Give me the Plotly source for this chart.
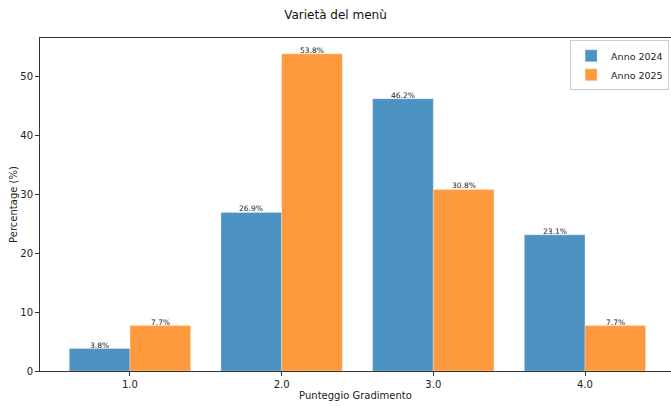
import plotly.graph_objects as go

categories = [1, 2, 3, 4]
tick_labels = ["1.0", "2.0", "3.0", "4.0"]
values_2024 = [3.8, 26.9, 46.2, 23.1]
values_2025 = [7.7, 53.8, 30.8, 7.7]
series_names = ["Anno 2024", "Anno 2025"]

blue = "#4c92c3"
orange = "#ff993e"
font_family = "DejaVu Sans"

fig = go.Figure()
for name, vals, color, off in [
    (series_names[0], values_2024, blue, -0.4),
    (series_names[1], values_2025, orange, 0.0),
]:
    fig.add_trace(go.Bar(
        x=categories, y=vals, name=name,
        width=0.4, offset=off,
        marker=dict(color=color, line=dict(width=0.5, color="rgba(255,255,255,0.6)")),
        cliponaxis=False,
    ))
    for c, v in zip(categories, vals):
        fig.add_annotation(
            x=c + off + 0.2, y=v, text=f"{v:.1f}%", showarrow=False,
            yanchor="bottom", yshift=-3,
            font=dict(size=7.5, color="#222", family=font_family),
        )

fig.update_layout(
    width=671, height=406,
    margin=dict(l=40, r=0, t=38, b=35, autoexpand=False),
    plot_bgcolor="white", paper_bgcolor="white",
    font=dict(family=font_family, size=10, color="#222"),
    title=dict(text="Varietà del menù", x=0.5, xanchor="center", y=0.963, yanchor="middle",
               font=dict(size=12, color="#111")),
    barmode="overlay",
    showlegend=True,
    legend=dict(x=0.997, y=0.993, xanchor="right", yanchor="top",
                bordercolor="#cccccc", borderwidth=1, bgcolor="rgba(255,255,255,0.8)",
                font=dict(size=9.5), tracegroupgap=0, itemwidth=30),
)
fig.update_xaxes(
    range=[0.407, 4.567], automargin=False,
    tickvals=categories, ticktext=tick_labels,
    ticks="outside", ticklen=4, tickcolor="#333",
    showline=True, linecolor="#333", linewidth=1, mirror=True,
    showgrid=False, zeroline=False,
    title=dict(text="Punteggio Gradimento", font=dict(size=10), standoff=2),
)
fig.update_yaxes(
    range=[0, 56.49], automargin=False,
    tickvals=[0, 10, 20, 30, 40, 50],
    ticks="outside", ticklen=4, tickcolor="#333",
    showline=True, linecolor="#333", linewidth=1, mirror=True,
    showgrid=False, zeroline=False,
    title=dict(text="Percentage (%)", font=dict(size=10), standoff=0),
)
fig.write_html("out.html", config={"displayModeBar": False})
with open("out.html", encoding="utf-8") as f:
    html = f.read()
html = html.replace("<body>", '<body style="margin:0;padding:0;overflow:hidden">', 1)
with open("out.html", "w", encoding="utf-8") as f:
    f.write(html)
